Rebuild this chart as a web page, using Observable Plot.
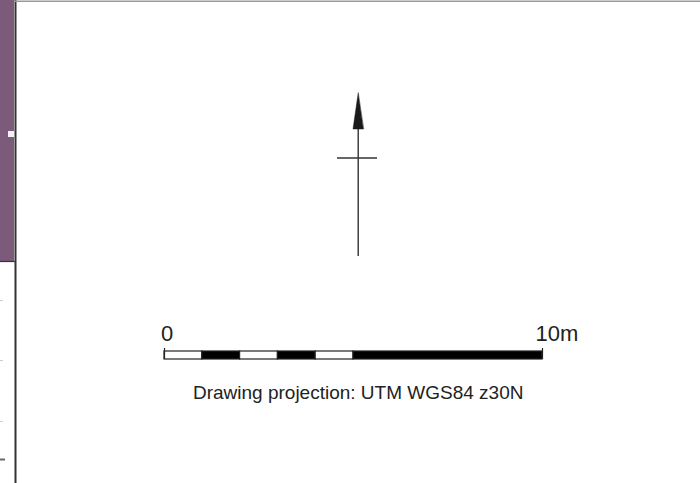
<!DOCTYPE html>
<html>
<head>
<meta charset="utf-8">
<script src="https://cdn.jsdelivr.net/npm/d3@7"></script>
<script src="https://cdn.jsdelivr.net/npm/@observablehq/plot@0.6"></script>
<style>
  html, body { margin: 0; padding: 0; background: #fff; }
  svg { display: block; }
</style>
</head>
<body>
<div id="chart"></div>
<script>
// Scale bar segments in metres
const segmentStart = [0, 1, 2, 3, 4, 5];
const segmentEnd   = [1, 2, 3, 4, 5, 10];
const segmentFill  = ["white", "black", "white", "black", "white", "black"];
// Scale bar labels
const labelMetres = [0, 10];
const labelText   = ["0", "10m"];
const projectionText = "Drawing projection: UTM WGS84 z30N";
// Left-hand neighbouring panel tick positions (page units)
const sideTicks = [300, 360, 421];
const sideTickDark = [459];

const W = 700, H = 483;
// metres -> page units for the scale bar
const m = d3.scaleLinear().domain([0, 10]).range([164, 542]);

const segments = segmentStart.map((s, i) => ({x1: m(s), x2: m(segmentEnd[i]), fill: segmentFill[i]}));
const labels = labelMetres.map((v, i) => ({x: m(v) + (i === 0 ? 2.5 : 14.5), text: labelText[i]}));

const cx = 357.7;
const arrowHead = [{x: cx, y: 92.5}, {x: cx - 5.2, y: 128.5}, {x: cx + 5.2, y: 128.5}];

const plot = Plot.plot({
  width: W, height: H,
  margin: 0,
  x: {domain: [0, W], range: [0, W], axis: null},
  y: {domain: [0, H], range: [0, H], axis: null},
  style: {background: "white", fontFamily: "Liberation Sans, Arial, sans-serif"},
  marks: [
    // left neighbouring panel
    Plot.rect([{}], {x1: 0, x2: 14, y1: 0, y2: 261, fill: "#7b5b79"}),
    Plot.rect([{}], {x1: 8, x2: 14, y1: 131, y2: 137, fill: "#f4f0f4"}),
    Plot.ruleY([261], {x1: 0, x2: 15, stroke: "#333", strokeWidth: 1.2}),
    Plot.ruleY(sideTicks, {x1: 0, x2: 3, stroke: "#ccc", strokeWidth: 1}),
    Plot.ruleY(sideTickDark, {x1: 0, x2: 5, stroke: "#667", strokeWidth: 2}),
    Plot.ruleX([15], {y1: 0, y2: H, stroke: "#333", strokeWidth: 2}),
    Plot.ruleY([0.8], {x1: 15, x2: W, stroke: "#999", strokeWidth: 1.5}),
    // north arrow
    Plot.ruleX([cx], {y1: 128, y2: 256, stroke: "#222", strokeWidth: 1.3}),
    Plot.ruleY([157.5], {x1: 337, x2: 377, stroke: "#333", strokeWidth: 1.3}),
    Plot.line(arrowHead, {x: "x", y: "y", fill: "#1a1a1a", stroke: "#1a1a1a", strokeWidth: 0.5, curve: "linear-closed"}),
    // scale bar
    Plot.rect(segments, {x1: "x1", x2: "x2", y1: 351, y2: 359, fill: "fill", stroke: "#222", strokeWidth: 1.2}),
    Plot.ruleX(labelMetres.map(v => m(v)), {y1: 348, y2: 359, stroke: "#222", strokeWidth: 1.2}),
    Plot.text(labels, {x: "x", y: 333.5, text: "text", fontSize: 22, fill: "#222", textAnchor: "middle"}),
    Plot.text([projectionText], {x: cx, y: 392, text: d => d, fontSize: 19, fill: "#222", textAnchor: "middle"})
  ]
});
document.getElementById("chart").appendChild(plot);
</script>
</body>
</html>
